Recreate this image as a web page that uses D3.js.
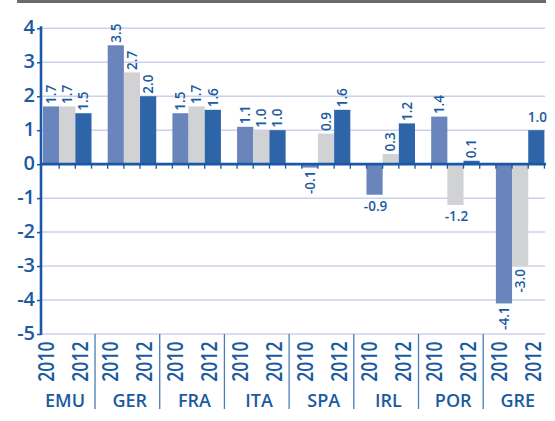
<!DOCTYPE html>
<html>
<head>
<meta charset="utf-8">
<script src="https://cdn.jsdelivr.net/npm/d3@7"></script>
<style>
  body { margin: 0; background: #fff; }
  svg { display: block; font-family: "Open Sans", "Noto Sans", sans-serif; }
  .big { font-weight: 600; }
</style>
</head>
<body>
<div id="chart"></div>
<script>
// chart data
const categories = ['EMU', 'GER', 'FRA', 'ITA', 'SPA', 'IRL', 'POR', 'GRE'];
const series = ['2010', '2011', '2012'];
const values2010 = [1.7, 3.5, 1.5, 1.1, -0.1, -0.9, 1.4, -4.1];
const values2011 = [1.7, 2.7, 1.7, 1.0, 0.9, 0.3, -1.2, -3.0];
const values2012 = [1.5, 2.0, 1.6, 1.0, 1.6, 1.2, 0.1, 1.0];
const yTicks = [-5, -4, -3, -2, -1, 0, 1, 2, 3, 4];
const yearLabels = ['2010', '2012'];
// these value labels sit flat instead of turned
const flatLabels = [['IRL', '2010'], ['POR', '2011'], ['GRE', '2012']];

const colors = { '2010': '#6a84bc', '2011': '#d1d2d4', '2012': '#2e65a9' };
const textColor = '#1b5a9f';
const axisColor = '#1a57a4';
const gridColor = '#cbd2ea';

const W = 555, H = 421;
const plotLeft = 41, plotRight = 546, plotTop = 28.3, plotBottom = 334;

const svg = d3.select('#chart').append('svg')
    .attr('width', W)
    .attr('height', H);

// 4 slots per country: 3 bars + a gap
const x0 = d3.scaleBand().domain(categories).range([43, 544.4]).paddingInner(0.25).paddingOuter(0);
const x1 = d3.scaleBand().domain(series).range([0, x0.bandwidth()]);
const y = d3.scaleLinear().domain([-5, 4]).range([plotBottom, plotTop]);

// build rows from the arrays
const valuesBySeries = { '2010': values2010, '2011': values2011, '2012': values2012 };
const rows = [];
categories.forEach((c, i) => {
    series.forEach(s => rows.push({ cat: c, ser: s, v: valuesBySeries[s][i] }));
});
const isFlat = d => flatLabels.some(f => f[0] === d.cat && f[1] === d.ser);

// grey rule at the very top
svg.append('line')
    .attr('x1', 17).attr('x2', plotRight)
    .attr('y1', 1.5).attr('y2', 1.5)
    .attr('stroke', '#6b6b6b').attr('stroke-width', 3);

// gridlines
svg.append('g').selectAll('line')
    .data(yTicks.filter(t => t !== 0))
    .join('line')
        .attr('x1', plotLeft).attr('x2', plotRight - 1)
        .attr('y1', d => y(d)).attr('y2', d => y(d))
        .attr('stroke', gridColor).attr('stroke-width', 1.5);

// bars
svg.append('g').selectAll('rect')
    .data(rows)
    .join('rect')
        .attr('x', d => x0(d.cat) + x1(d.ser))
        .attr('y', d => y(Math.max(0, d.v)))
        .attr('width', x1.bandwidth())
        .attr('height', d => Math.abs(y(d.v) - y(0)))
        .attr('fill', d => colors[d.ser]);

// zero line with little ticks at every slot edge
svg.append('line')
    .attr('x1', plotLeft).attr('x2', plotRight)
    .attr('y1', y(0)).attr('y2', y(0))
    .attr('stroke', axisColor).attr('stroke-width', 2.6);

const slot = x1.step();
const slotEdges = [];
categories.forEach(c => {
    for (let k = 1; k <= 4; k++) {
        const xx = x0(c) + k * slot;
        if (xx <= plotRight) slotEdges.push(xx);
    }
});
svg.append('g').selectAll('line')
    .data(slotEdges)
    .join('line')
        .attr('x1', d => d).attr('x2', d => d)
        .attr('y1', y(0)).attr('y2', y(0) + 4.5)
        .attr('stroke', axisColor).attr('stroke-width', 1.3);

// y axis
const yAxis = svg.append('g')
    .attr('transform', `translate(${plotLeft},0)`)
    .call(d3.axisLeft(y).tickValues(yTicks).tickSize(4).tickPadding(2).tickFormat(d => String(d)));
yAxis.select('.domain').remove();
yAxis.attr('font-family', null);
yAxis.selectAll('.tick line').attr('stroke', axisColor).attr('stroke-width', 1.5);
yAxis.selectAll('.tick text')
    .attr('class', 'big')
    .attr('fill', textColor)
    .attr('font-size', 20)
    .attr('dy', '0.25em');
svg.append('line')
    .attr('x1', plotLeft).attr('x2', plotLeft)
    .attr('y1', plotTop - 2).attr('y2', plotBottom + 1)
    .attr('stroke', axisColor).attr('stroke-width', 2.6);

// value labels
const labels = svg.append('g')
    .attr('fill', textColor)
    .attr('font-weight', 600)
    .attr('font-size', 13.5);

labels.selectAll('text.turned')
    .data(rows.filter(d => !isFlat(d)))
    .join('text')
        .attr('class', 'turned')
        .attr('text-anchor', d => d.v >= 0 ? 'start' : 'end')
        .attr('dy', '0.35em')
        .attr('transform', d => {
            const cx = x0(d.cat) + x1(d.ser) + x1.bandwidth() / 2;
            const yy = d.v >= 0 ? y(d.v) - 2.5 : y(d.v) + 3;
            return `translate(${cx},${yy}) rotate(-90)`;
        })
        .text(d => d.v.toFixed(1));

labels.selectAll('text.flat')
    .data(rows.filter(isFlat))
    .join('text')
        .attr('class', 'flat')
        .attr('text-anchor', 'middle')
        .attr('x', d => x0(d.cat) + x1(d.ser) + x1.bandwidth() / 2 + 1)
        .attr('y', d => d.v >= 0 ? y(d.v) - 8 : y(d.v) + 16.5)
        .text(d => d.v.toFixed(1));

// category area under the plot
svg.append('g').selectAll('line')
    .data(categories.slice(0, -1))
    .join('line')
        .attr('x1', d => x0(d) + x0.bandwidth() + 3.5)
        .attr('x2', d => x0(d) + x0.bandwidth() + 3.5)
        .attr('y1', plotBottom).attr('y2', 409)
        .attr('stroke', '#4a7bbb').attr('stroke-width', 1.3);

const yearPos = { '2010': 3, '2012': 37 };
const years = [];
categories.forEach(c => yearLabels.forEach(yl => years.push({ cat: c, yl: yl })));
// the years are set in a narrow face, so squeeze them a bit
svg.append('g').selectAll('text')
    .data(years)
    .join('text')
        .attr('class', 'big')
        .attr('fill', textColor)
        .attr('font-size', 22)
        .attr('text-anchor', 'end')
        .attr('dy', '0.35em')
        .attr('transform', d => `translate(${x0(d.cat) + yearPos[d.yl]},341.5) rotate(-90) scale(0.8,1)`)
        .text(d => d.yl);

svg.append('g').selectAll('text')
    .data(categories)
    .join('text')
        .attr('class', 'big')
        .attr('fill', textColor)
        .attr('font-size', 18)
        .attr('text-anchor', 'middle')
        .attr('x', d => x0(d) + 22)
        .attr('y', 407)
        .text(d => d);
</script>
</body>
</html>
